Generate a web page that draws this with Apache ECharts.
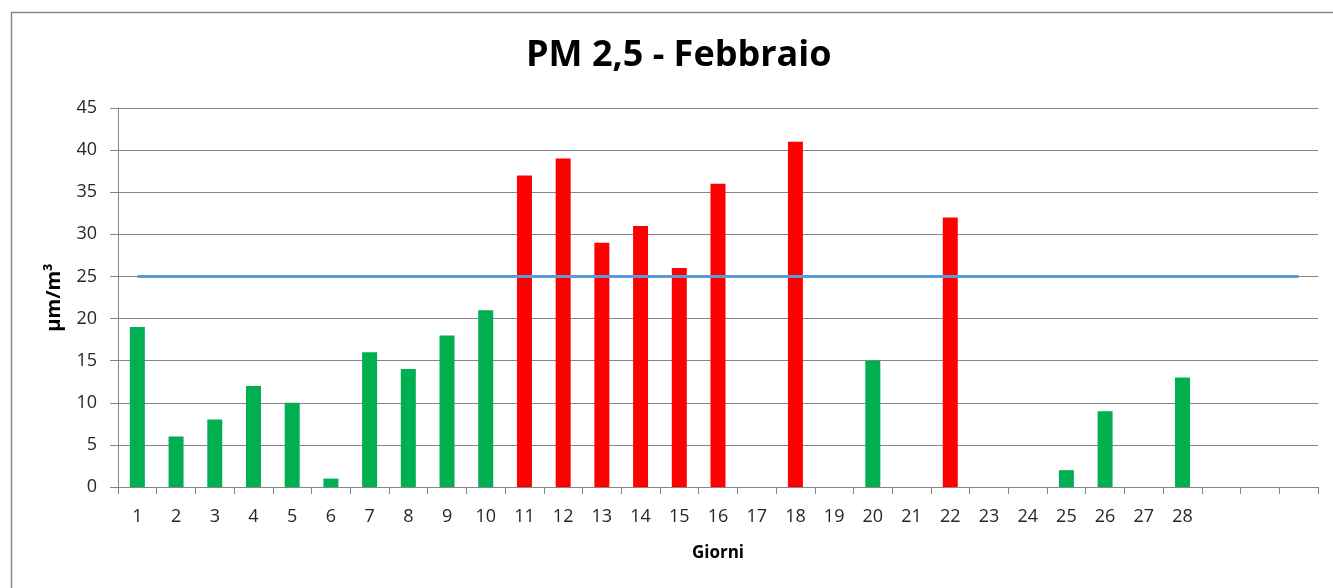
<!DOCTYPE html>
<html>
<head>
<meta charset="utf-8">
<script src="https://cdn.jsdelivr.net/npm/echarts@6/dist/echarts.min.js"></script>
<style>
html,body{margin:0;padding:0;background:#fff;}
#chart{width:1333px;height:588px;}
</style>
</head>
<body>
<div id="chart"></div>
<script>
// Data
const categories = ['1','2','3','4','5','6','7','8','9','10','11','12','13','14','15','16','17','18','19','20','21','22','23','24','25','26','27','28','','',''];
const pm25 = [19,6,8,12,10,1,16,14,18,21,37,39,29,31,26,36,null,41,null,15,null,32,null,null,2,9,null,13,null,null,null];
const limitValue = 25;
const limitLine = categories.map(() => limitValue);
const yTicks = { min: 0, max: 45, interval: 5 };

const GREEN = '#00B050', RED = '#FF0000', BLUE = '#5B9BD5';
const FONT = '"Open Sans", "Noto Sans", sans-serif';

const chart = echarts.init(document.getElementById('chart'));
chart.setOption({
  animation: false,
  backgroundColor: '#ffffff',
  graphic: [{
    type: 'rect', left: 9, top: 10,
    shape: { width: 1400, height: 700 },
    style: { fill: 'none', stroke: '#868686', lineWidth: 1.5 },
    silent: true
  }],
  title: {
    text: 'PM 2,5 - Febbraio',
    left: 521, top: 33,
    padding: 5,
    textStyle: { fontFamily: FONT, fontWeight: 'bold', fontSize: 36, color: '#000' }
  },
  grid: { left: 118, right: 15, top: 108, bottom: 101, containLabel: false },
  xAxis: {
    type: 'category',
    data: categories,
    boundaryGap: true,
    name: 'Giorni',
    nameLocation: 'middle',
    nameGap: 58,
    nameTextStyle: { fontFamily: FONT, fontWeight: 'bold', fontSize: 17, color: '#000' },
    axisLine: { lineStyle: { color: '#868686', width: 1 } },
    axisTick: { show: true, length: 7, alignWithLabel: false, interval: 0, lineStyle: { color: '#868686' } },
    axisLabel: { interval: 0, margin: 21, fontFamily: FONT, fontSize: 18, color: '#262626' },
    splitLine: { show: false }
  },
  yAxis: {
    type: 'value',
    min: yTicks.min, max: yTicks.max, interval: yTicks.interval,
    name: 'µm/m³',
    nameLocation: 'middle',
    nameGap: 54,
    nameRotate: 90,
    nameTextStyle: { fontFamily: FONT, fontWeight: 'bold', fontSize: 20, color: '#000' },
    axisLine: { show: true, lineStyle: { color: '#868686', width: 1 } },
    axisTick: { show: true, length: 8, lineStyle: { color: '#868686' } },
    axisLabel: { margin: 21, fontFamily: FONT, fontSize: 18, color: '#262626' },
    splitLine: { show: true, lineStyle: { color: '#868686', width: 1 } }
  },
  series: [
    {
      type: 'bar',
      name: 'PM 2,5',
      barWidth: 15,
      data: pm25.map(v => v === null ? null : ({
        value: v,
        itemStyle: { color: v > limitValue ? RED : GREEN }
      }))
    },
    {
      type: 'line',
      name: 'Limite',
      data: limitLine,
      showSymbol: false,
      symbol: 'none',
      lineStyle: { color: BLUE, width: 3 },
      z: 3
    }
  ]
});
</script>
</body>
</html>
